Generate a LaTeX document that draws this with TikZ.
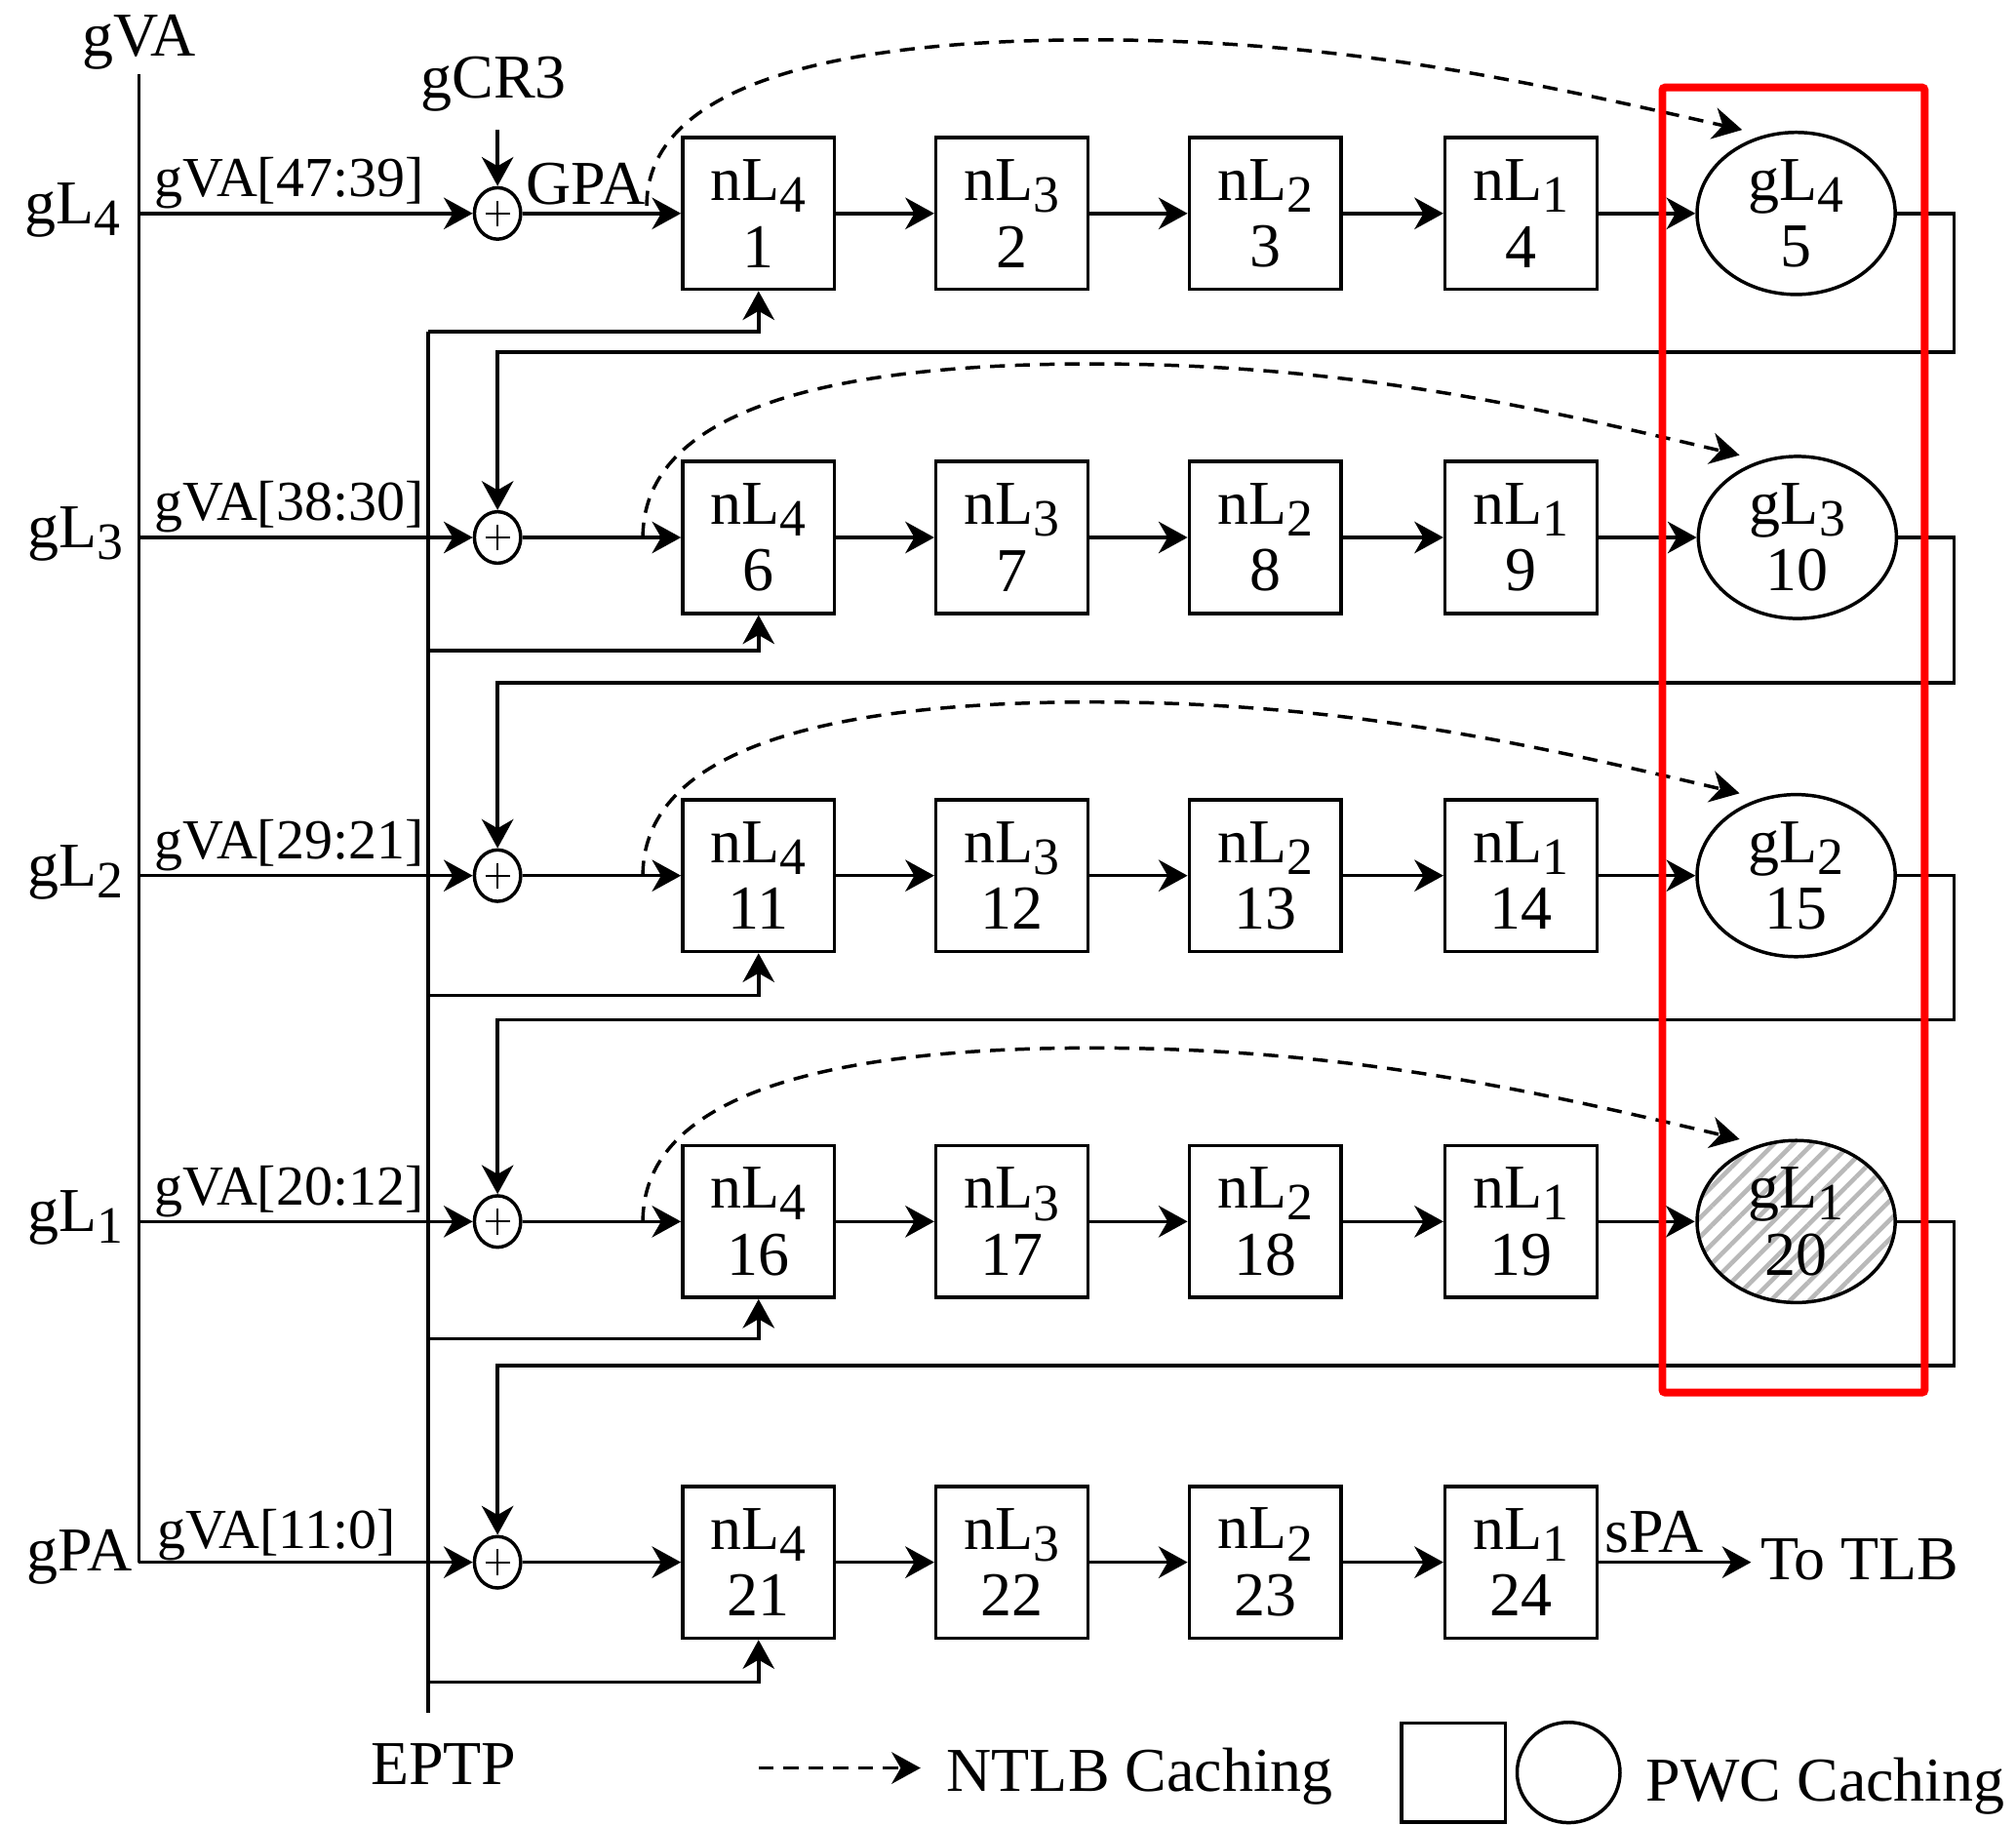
\documentclass[tikz,border=0pt]{standalone}
\usepackage{graphicx}
\usepackage{fontspec}
\setmainfont{Liberation Serif}
\usetikzlibrary{arrows.meta,patterns.meta,shapes.geometric}
\newcommand{\sbs}[1]{\raisebox{-2.6pt}{\scalebox{0.84}{#1}}}
\begin{document}
\begin{tikzpicture}[x=0.01cm,y=-0.01cm,
  line width=0.75pt,
  >={Stealth[length=6.4pt,width=7pt,inset=2pt]},
  mainfont/.style={font=\fontsize{13.8pt}{14.8pt}\selectfont},
  bitfont/.style={font=\fontsize{12.5pt}{13pt}\selectfont},
  walkbox/.style={draw, minimum width=1.18cm, minimum height=1.18cm, align=center, inner sep=0pt, mainfont},
  pwc/.style={draw, ellipse, minimum width=1.54cm, minimum height=1.26cm, align=center, inner sep=0pt, mainfont},
  adder/.style={draw, ellipse, minimum width=0.36cm, minimum height=0.40cm, inner sep=0pt,
    path picture={\draw[line width=0.4pt] ([xshift=-0.095cm]path picture bounding box.center) -- ([xshift=0.095cm]path picture bounding box.center) ([yshift=-0.1cm]path picture bounding box.center) -- ([yshift=0.1cm]path picture bounding box.center);}},
  lbl/.style={inner sep=0pt, mainfont},
  bitlbl/.style={inner sep=0pt, bitfont, anchor=base west},
  ntlb/.style={->, dash pattern=on 3.3pt off 2.2pt}
]
\useasboundingbox (0,0) rectangle (1568,1419);

% guest VA line
\coordinate (vaTop) at (108,58);
\coordinate (vaBot) at (108,1215);
\draw (vaTop) -- (vaBot);
\node[lbl, anchor=base] (gva) at (108,44) {gVA};

% EPTP line
\coordinate (epTop) at (333,258);
\coordinate (epBot) at (333,1332);
\draw (epTop) -- (epBot);
\node[lbl, anchor=base] (eptp) at (345,1388) {EPTP};

% adders
\foreach \r/\ly in {1/166,2/418,3/681,4/950,5/1215}{
  \node[adder] (p\r) at (387,\ly) {};
  \coordinate (v\r) at (108,\ly);
  \draw[->] (v\r) -- (p\r.west);
}

% walk boxes
\foreach \r/\ly in {1/166,2/418,3/681,4/950,5/1215}{
  \foreach \c/\cx/\lv in {1/590/4,2/787/3,3/984/2,4/1183/1}{
    \pgfmathtruncatemacro{\num}{(\r-1)*5+\c}
    \node[walkbox] (b\r\c) at (\cx,\ly) {nL\sbs{\lv}\\\num};
  }
  \draw[->] (p\r.east) -- (b\r1.west);
  \draw[->] (b\r1.east) -- (b\r2.west);
  \draw[->] (b\r2.east) -- (b\r3.west);
  \draw[->] (b\r3.east) -- (b\r4.west);
}

% PWC ellipses
\node[pwc] (e1) at (1397,166) {gL\sbs{4}\\5};
\node[pwc] (e2) at (1398,418) {gL\sbs{3}\\10};
\node[pwc] (e3) at (1397,681) {gL\sbs{2}\\15};
\node[pwc, pattern={Lines[angle=45,distance=3pt,line width=1pt]}, pattern color=gray!55] (e4) at (1397,950) {gL\sbs{1}\\20};
\foreach \r in {1,2,3,4}{
  \draw[->] (b\r4.east) -- (e\r.west);
}

% EPTP branches
\foreach \r/\yb in {1/258,2/506,3/774,4/1041,5/1308}{
  \coordinate (t\r) at (333,\yb);
  \draw[->] (t\r) -| (b\r1.south);
}

% loops back from PWC entries
\foreach \r/\ly/\lp in {1/166/274,2/418/531,3/681/793,4/950/1062}{
  \pgfmathtruncatemacro{\nx}{\r+1}
  \coordinate (k\r) at (1520,\lp);
  \draw[->] (e\r.east) -| (k\r) -| (p\nx.north);
}

% gCR3
\node[lbl, anchor=base] (gcr) at (384,76) {gCR3};
\coordinate (gcrA) at (387,101);
\draw[->] (gcrA) -- (p1.north);
\node[lbl, anchor=base west] (gpa) at (408,159) {GPA};

% NTLB dashed curves
\foreach \r/\ly in {2/418,3/681,4/950}{
  \coordinate (ds\r) at (500,\ly);
  \draw[ntlb] (ds\r) .. controls (500,\ly-90) and (620,\ly-135) .. (850,\ly-135)
     .. controls (1050,\ly-135) and (1200,\ly-100) .. (1353,\ly-64);
}
\coordinate (ds1) at (503,160);
\draw[ntlb] (ds1) .. controls (503,76) and (620,31) .. (850,31)
     .. controls (1050,31) and (1200,66) .. (1355,101);

% left labels
\node[lbl, anchor=base east] (l1) at (95,174) {gL\sbs{4}};
\node[lbl, anchor=base east] (l2) at (97,426) {gL\sbs{3}};
\node[lbl, anchor=base east] (l3) at (97,689) {gL\sbs{2}};
\node[lbl, anchor=base east] (l4) at (97,958) {gL\sbs{1}};
\node[lbl, anchor=base east] (l5) at (104,1222) {gPA};

% bit-field labels
\node[bitlbl] (f1) at (119,153) {gVA[47:39]};
\node[bitlbl] (f2) at (119,405) {gVA[38:30]};
\node[bitlbl] (f3) at (119,668) {gVA[29:21]};
\node[bitlbl] (f4) at (119,937) {gVA[20:12]};
\node[bitlbl] (f5) at (121,1204) {gVA[11:0]};

% output
\coordinate (tlbA) at (1362,1215);
\draw[->] (b54.east) -- (tlbA);
\node[lbl, anchor=base west] (spa) at (1247,1207) {sPA};
\node[lbl, anchor=west] (tlb) at (1368,1213) {To TLB};

% legend
\coordinate (lgA) at (590,1375);
\coordinate (lgB) at (716,1375);
\draw[ntlb] (lgA) -- (lgB);
\node[lbl, anchor=base west] (lgN) at (735,1393) {NTLB Caching};
\node[draw, minimum width=0.81cm, minimum height=0.77cm, inner sep=0pt] (lgS) at (1130.5,1378.5) {};
\node[draw, ellipse, minimum width=0.80cm, minimum height=0.78cm, inner sep=0pt] (lgE) at (1220,1378.5) {};
\node[lbl, anchor=base west] (lgP) at (1279,1401) {PWC Caching};

% highlighted PWC column
\draw[red, line width=1.7pt, rounded corners=0.6pt] (1293,68) rectangle (1497,1083);
\end{tikzpicture}
\end{document}
